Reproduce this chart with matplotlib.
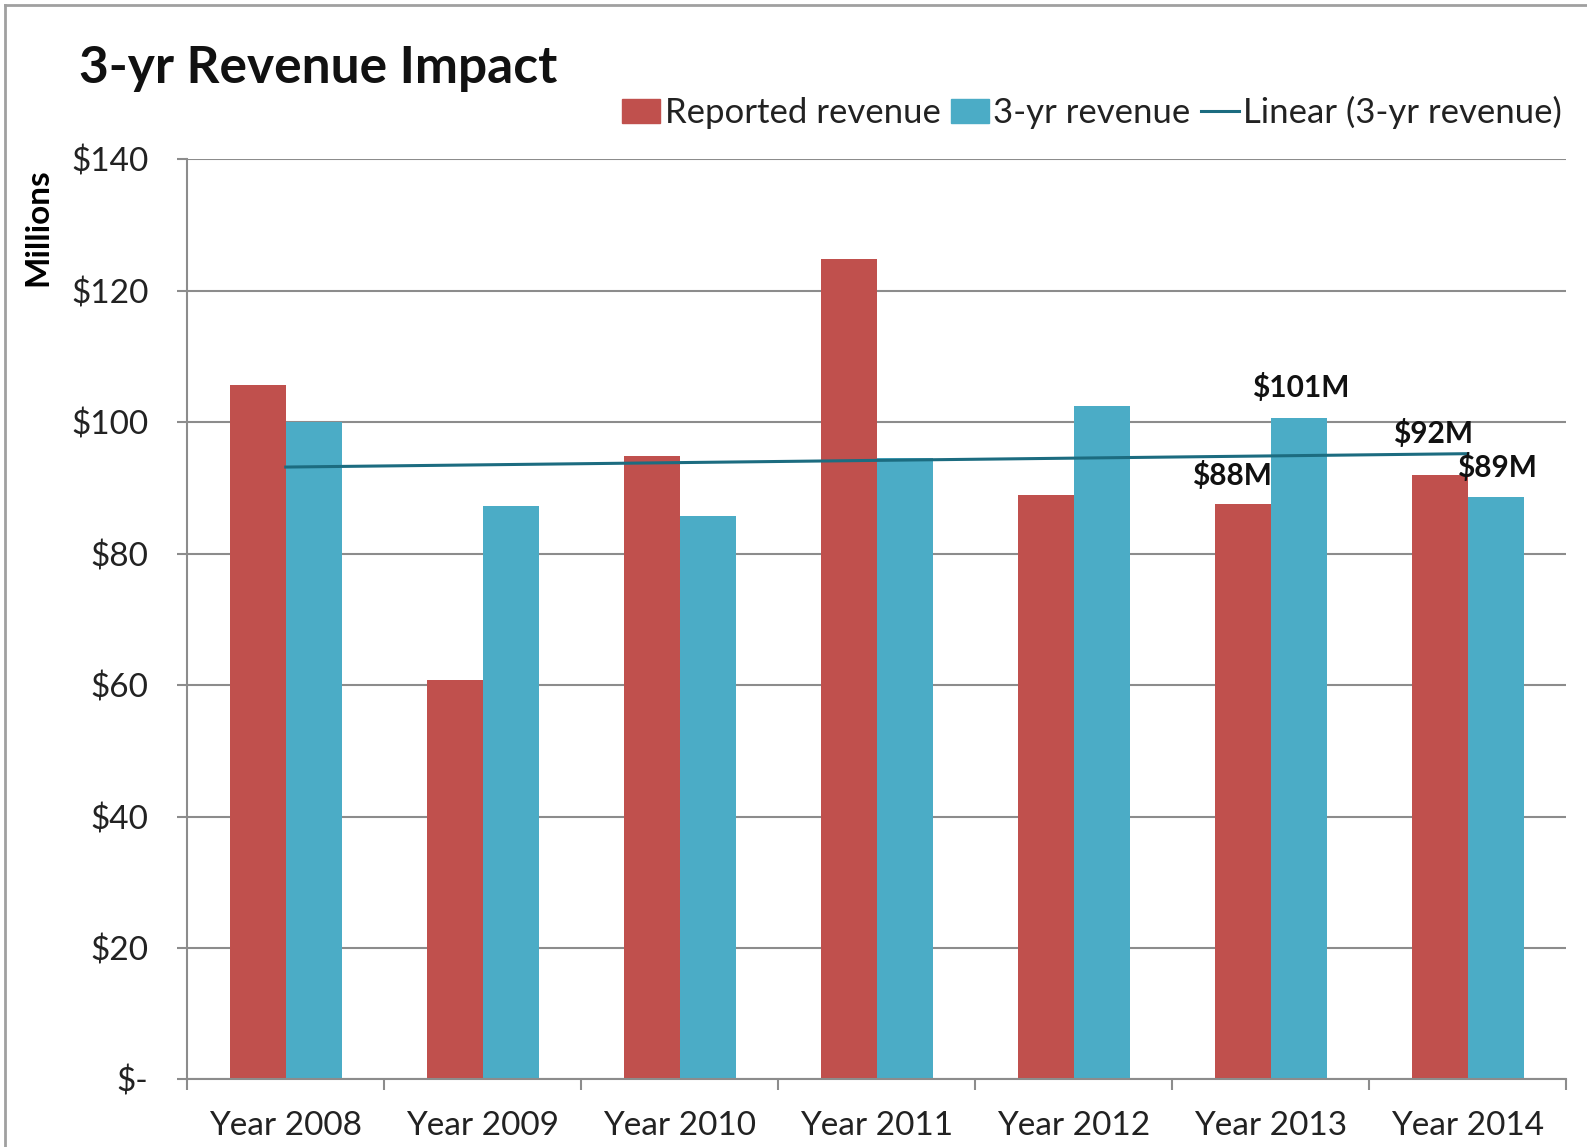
import numpy as np
import matplotlib.pyplot as plt
from matplotlib.patches import Patch
from matplotlib.lines import Line2D

plt.rcParams['font.family'] = ['Lato', 'DejaVu Sans']

years = ["Year 2008", "Year 2009", "Year 2010", "Year 2011", "Year 2012", "Year 2013", "Year 2014"]
reported = [105.7, 60.8, 94.8, 124.8, 89.0, 87.6, 91.9]
three_yr = [100.0, 87.3, 85.7, 94.6, 102.5, 100.6, 88.7]
y_ticks = [0, 20, 40, 60, 80, 100, 120, 140]
y_labels = ["$-", "$20", "$40", "$60", "$80", "$100", "$120", "$140"]

# callouts only on the last two years: (year index, series, text, dx, dy in points)
callouts = [(5, "reported", "$88M", -8, 20),
            (5, "three_yr", "$101M", 1, 22),
            (6, "reported", "$92M", -5, 30),
            (6, "three_yr", "$89M", 1, 21)]

red = "#C0504D"
blue = "#4BACC6"
trend_col = "#1C6C80"
gray = "#8C8C8C"

fig = plt.figure(figsize=(15.87, 11.47), dpi=100)
ax = fig.add_axes([0.118, 0.059, 0.869, 0.802])

x = np.arange(len(years))
w = 0.285
ax.bar(x - w / 2, reported, w, color=red, zorder=2)
ax.bar(x + w / 2, three_yr, w, color=blue, zorder=2)

# linear trendline through the 3-yr series
slope, icpt = np.polyfit(x, three_yr, 1)
ax.plot(x, slope * x + icpt, color=trend_col, lw=2.2, zorder=3)

for i, series, txt, dx, dy in callouts:
    vals = reported if series == "reported" else three_yr
    xpos = x[i] - w / 2 if series == "reported" else x[i] + w / 2
    ax.annotate(txt, (xpos, vals[i]), xytext=(dx, dy), textcoords="offset points",
                ha="center", va="center", fontsize=21.5, fontweight="bold", color="#111111")

ax.set_xlim(-0.5, len(years) - 0.5)
ax.set_ylim(0, 140)
ax.set_yticks(y_ticks)
ax.set_yticklabels(y_labels)
ax.set_xticks(x)
ax.set_xticklabels(years)
ax.set_xticks(np.arange(len(years) + 1) - 0.5, minor=True)
ax.tick_params(axis="x", which="major", length=0, pad=23, labelsize=24, labelcolor="#222222")
ax.tick_params(axis="x", which="minor", length=8, width=1.5, color=gray, direction="out")
ax.tick_params(axis="y", length=7, width=1.5, color=gray, pad=21, labelsize=24, labelcolor="#222222")

ax.yaxis.grid(True, color=gray, lw=1.5, zorder=0)
ax.set_axisbelow(True)
for s in ["top", "right"]:
    ax.spines[s].set_visible(False)
for s in ["left", "bottom"]:
    ax.spines[s].set_color(gray)
    ax.spines[s].set_linewidth(1.5)

fig.text(0.05, 0.94, "3-yr Revenue Impact", fontsize=37, fontweight="bold",
         ha="left", va="center", color="#111111")
fig.text(0.024, 0.802, "Millions", rotation=90, fontsize=24, fontweight="bold",
         ha="center", va="center")

handles = [Patch(color=red, label="Reported revenue"),
           Patch(color=blue, label="3-yr revenue"),
           Line2D([], [], color=trend_col, lw=2.2, label="Linear (3-yr revenue)")]
fig.legend(handles=handles, ncol=3, loc="center right", bbox_to_anchor=(1.004, 0.902),
           frameon=False, fontsize=25, handlelength=1.1, handleheight=0.7,
           handletextpad=0.12, columnspacing=0.3, labelcolor="#222222")

# chart frame on the top and left edges
fig.add_artist(Line2D([0.003, 1.0], [0.996, 0.996], color="#A0A0A0", lw=2, transform=fig.transFigure))
fig.add_artist(Line2D([0.003, 0.003], [0.0, 0.996], color="#A0A0A0", lw=2, transform=fig.transFigure))

fig.savefig("out.png", dpi=100)
